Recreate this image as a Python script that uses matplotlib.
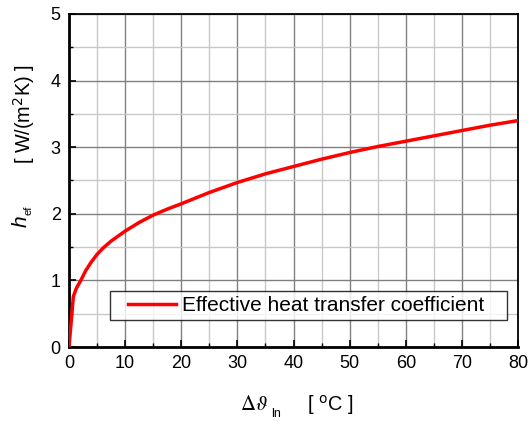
import matplotlib
matplotlib.use("Agg")
import matplotlib.pyplot as plt
from matplotlib.ticker import MultipleLocator
from matplotlib.legend_handler import HandlerLine2D

# data
dtheta = [0, 0.77, 1.3, 2.1, 3, 4, 5, 6, 7.5, 10, 12.5, 15, 17.5, 20, 25, 30, 35,
          40, 45, 50, 55, 60, 65, 70, 75, 80]
h_ef = [0, 0.755, 0.88, 1.0, 1.15, 1.28, 1.39, 1.48, 1.59, 1.74, 1.87, 1.98, 2.07,
        2.15, 2.32, 2.47, 2.60, 2.71, 2.82, 2.92, 3.01, 3.09, 3.17, 3.25, 3.33, 3.40]
legend_label = "Effective heat transfer coefficient"

plt.rcParams["font.family"] = ["Liberation Sans", "DejaVu Sans"]

fig = plt.figure(figsize=(5.28, 4.22), dpi=100)
ax = fig.add_axes([69 / 528, 1 - 347 / 422, 449 / 528, 333 / 422])

ax.plot(dtheta, h_ef, color="red", lw=2.5, label=legend_label, zorder=3)

ax.set_xlim(0, 80)
ax.set_ylim(0, 5)
ax.xaxis.set_major_locator(MultipleLocator(10))
ax.xaxis.set_minor_locator(MultipleLocator(5))
ax.yaxis.set_major_locator(MultipleLocator(1))
ax.yaxis.set_minor_locator(MultipleLocator(0.5))

ax.grid(which="major", color="#808080", lw=1.0)
ax.grid(which="minor", color="#c8c8c8", lw=1.0)
ax.set_axisbelow(True)

ax.tick_params(which="major", direction="in", length=5, width=1.2, labelsize=13,
               top=False, right=False, pad=6)
ax.tick_params(which="minor", direction="in", length=3, width=1.0,
               top=False, right=False)

for side in ["left", "bottom"]:
    ax.spines[side].set_linewidth(2.0)
for side in ["top", "right"]:
    ax.spines[side].set_linewidth(1.3)

leg = ax.legend(loc="lower left", bbox_to_anchor=(41 / 449, 27 / 333, 397 / 449, 32 / 333),
                mode="expand", fontsize=15, frameon=True, fancybox=False,
                numpoints=2, handlelength=3.53, handletextpad=-0.34,
                handler_map={plt.Line2D: HandlerLine2D(marker_pad=0.615)},
                borderaxespad=0, borderpad=0.25)
leg.get_frame().set_edgecolor("black")
leg.get_frame().set_linewidth(1.0)

# y label
fig.text(21 / 528, 1 - 221 / 422, "h", fontsize=15, style="italic", rotation=90,
         ha="center", va="center")
fig.text(29 / 528, 1 - 210 / 422, "ef", fontsize=8, rotation=90,
         ha="center", va="center")
fig.text(24 / 528, 1 - 114 / 422, "[ W/(m$^2$K) ]", fontsize=14.3, rotation=90,
         ha="center", va="center")

# x label
fig.text(254 / 528, 1 - 405 / 422, r"$\Delta\vartheta$", fontsize=15,
         math_fontfamily="stix", ha="center", va="center")
fig.text(276 / 528, 1 - 414 / 422, "ln", fontsize=9, ha="center", va="center")
fig.text(330 / 528, 1 - 405 / 422, "[ $^{\\rm o}$C ]", fontsize=14.3,
         ha="center", va="center")

fig.savefig("out.png", dpi=100)
